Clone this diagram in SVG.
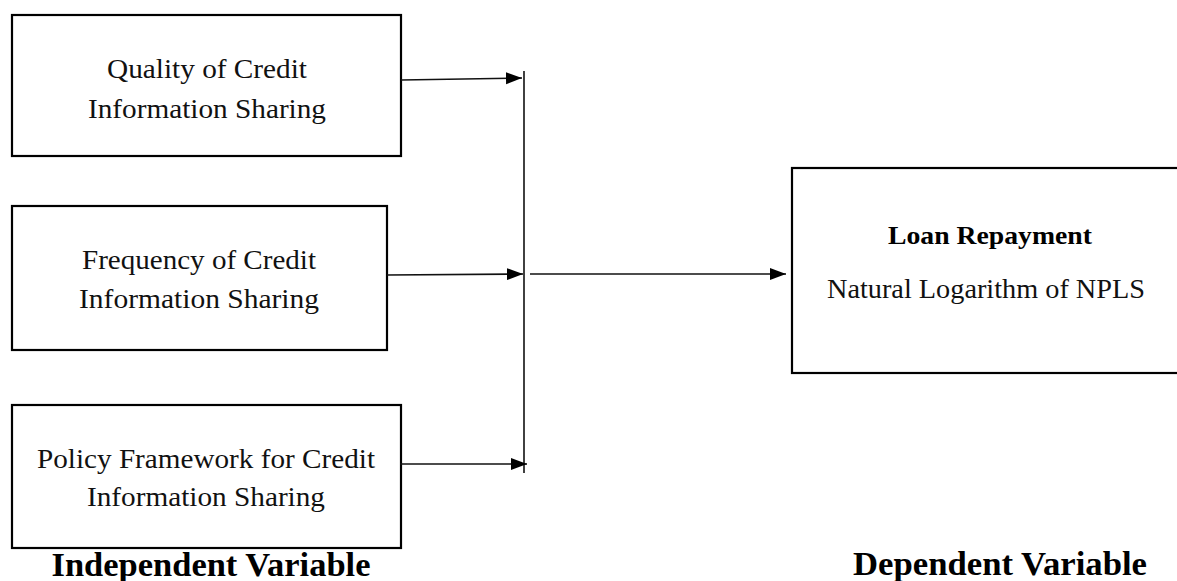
<svg xmlns="http://www.w3.org/2000/svg" width="1177" height="581" viewBox="0 0 1177 581">
<defs>
<style>
.box{fill:#fff;stroke:#000;stroke-width:2.2}
.t{font-family:"Liberation Serif","Times New Roman",serif;font-size:28px;fill:#111;text-anchor:middle}
.b{font-family:"Liberation Serif","Times New Roman",serif;font-weight:bold;fill:#000;text-anchor:middle}
.c{stroke:#111;stroke-width:1.6;fill:none}
</style>
<marker id="ah" markerUnits="userSpaceOnUse" markerWidth="18" markerHeight="14" refX="16" refY="6" orient="auto">
<path d="M0,0 L16,6 L0,12 Z" fill="#000"/>
</marker>
</defs>
<rect width="1177" height="581" fill="#fff"/>
<g id="node-quality">
<rect class="box" x="12" y="15" width="389" height="141"/>
<text class="t" x="207" y="78" textLength="200" lengthAdjust="spacingAndGlyphs">Quality of Credit</text>
<text class="t" x="207" y="118" textLength="238" lengthAdjust="spacingAndGlyphs">Information Sharing</text>
</g>
<g id="node-frequency">
<rect class="box" x="12" y="206" width="375" height="144"/>
<text class="t" x="199" y="269" textLength="234" lengthAdjust="spacingAndGlyphs">Frequency of Credit</text>
<text class="t" x="199" y="308" textLength="240" lengthAdjust="spacingAndGlyphs">Information Sharing</text>
</g>
<g id="node-policy">
<rect class="box" x="12" y="405" width="389" height="143"/>
<text class="t" x="206" y="468" textLength="338" lengthAdjust="spacingAndGlyphs">Policy Framework for Credit</text>
<text class="t" x="206" y="506" textLength="238" lengthAdjust="spacingAndGlyphs">Information Sharing</text>
</g>
<g id="node-loan">
<rect class="box" x="792" y="168" width="400" height="205"/>
<text class="b" x="990" y="244" font-size="26" textLength="204" lengthAdjust="spacingAndGlyphs">Loan Repayment</text>
<text class="t" x="986" y="298" textLength="318" lengthAdjust="spacingAndGlyphs">Natural Logarithm of NPLS</text>
</g>
<g id="labels">
<text class="b" x="211" y="576" font-size="34" textLength="319" lengthAdjust="spacingAndGlyphs">Independent Variable</text>
<text class="b" x="1000" y="575" font-size="34" textLength="294" lengthAdjust="spacingAndGlyphs">Dependent Variable</text>
</g>
<g id="connectors">
<line class="c" x1="524" y1="71" x2="524" y2="473" stroke="#555"/>
<line class="c" x1="401" y1="80" x2="522" y2="78" marker-end="url(#ah)"/>
<line class="c" x1="387" y1="275" x2="523" y2="274" marker-end="url(#ah)"/>
<line class="c" x1="400" y1="464" x2="527" y2="464" marker-end="url(#ah)"/>
<line class="c" x1="530" y1="274" x2="786" y2="274" marker-end="url(#ah)"/>
</g>
</svg>
